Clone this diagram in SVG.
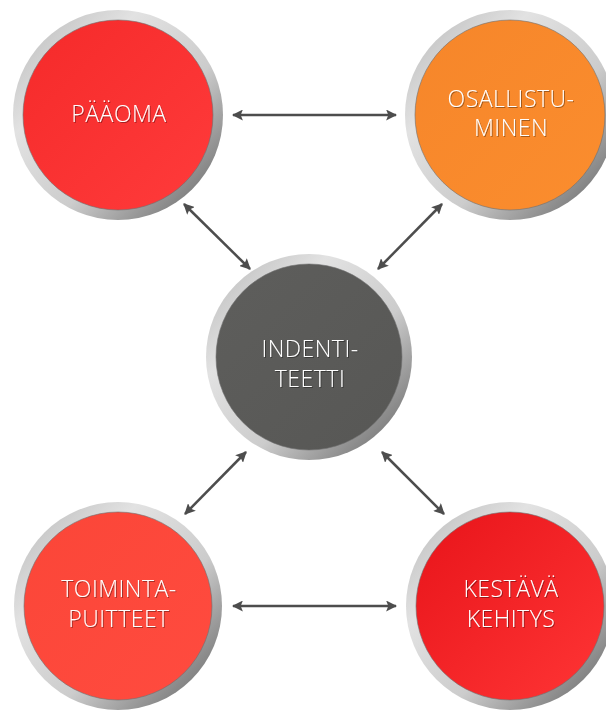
<svg xmlns="http://www.w3.org/2000/svg" width="606" height="711" viewBox="0 0 606 711">
<defs>
  <linearGradient id="ring" x1="0" y1="0" x2="1" y2="1">
    <stop offset="0" stop-color="#b5b5b5"/>
    <stop offset="0.3" stop-color="#e2e2e2"/>
    <stop offset="0.6" stop-color="#cccccc"/>
    <stop offset="0.85" stop-color="#858585"/>
    <stop offset="1" stop-color="#bdbdbd"/>
  </linearGradient>
  <linearGradient id="gRed" x1="0" y1="0" x2="1" y2="1">
    <stop offset="0" stop-color="#f52a2a"/>
    <stop offset="1" stop-color="#ff3b3b"/>
  </linearGradient>
  <linearGradient id="gOrange" x1="0" y1="0" x2="1" y2="1">
    <stop offset="0" stop-color="#f6862a"/>
    <stop offset="1" stop-color="#fb8d2e"/>
  </linearGradient>
  <linearGradient id="gGray" x1="0" y1="0" x2="1" y2="1">
    <stop offset="0" stop-color="#5e5e5c"/>
    <stop offset="1" stop-color="#575755"/>
  </linearGradient>
  <linearGradient id="gRed2" x1="0" y1="0" x2="1" y2="1">
    <stop offset="0" stop-color="#fb4638"/>
    <stop offset="1" stop-color="#ff4b3f"/>
  </linearGradient>
  <linearGradient id="gRed3" x1="0" y1="0" x2="1" y2="1">
    <stop offset="0" stop-color="#e8141a"/>
    <stop offset="1" stop-color="#ff3535"/>
  </linearGradient>
  <filter id="ts" x="-20%" y="-20%" width="140%" height="140%">
    <feDropShadow dx="1" dy="1" stdDeviation="0.6" flood-color="#000" flood-opacity="0.35"/>
  </filter>
  <marker id="ah" viewBox="0 0 10 10" refX="9" refY="5" markerWidth="4.4" markerHeight="4.4" orient="auto-start-reverse" markerUnits="strokeWidth">
    <path d="M0,0 L10,5 L0,10 L2,5 Z" fill="#4d4d4d"/>
  </marker>
</defs>
<style>
  .ring { fill: url(#ring); }
  .edge { fill: none; stroke: #6f6f6f; stroke-width: 1; stroke-opacity: 0.6; }
  .lbl { font-family: "Open Sans", "Liberation Sans", sans-serif; font-weight: 300; font-size: 23px; letter-spacing: 0.5px; fill: #ffffff; text-anchor: middle; filter: url(#ts); }
  .conn { stroke: #4d4d4d; stroke-width: 2.5; fill: none; marker-start: url(#ah); marker-end: url(#ah); }
</style>
<g id="connectors">
  <line class="conn" x1="233" y1="115" x2="396" y2="115"/>
  <line class="conn" x1="233" y1="606" x2="396" y2="606"/>
  <line class="conn" x1="184" y1="204" x2="250" y2="269"/>
  <line class="conn" x1="442" y1="204" x2="378" y2="269"/>
  <line class="conn" x1="246" y1="452" x2="185" y2="514"/>
  <line class="conn" x1="382" y1="452" x2="444" y2="514"/>
</g>
<g id="paaoma">
  <circle class="ring" cx="118" cy="115" r="105"/>
  <circle cx="118" cy="115" r="95" fill="url(#gRed)"/>
  <circle class="edge" cx="118" cy="115" r="95"/>
  <text class="lbl" x="119" y="122">PÄÄOMA</text>
</g>
<g id="osallistuminen">
  <circle class="ring" cx="510" cy="115" r="105"/>
  <circle cx="510" cy="115" r="95" fill="url(#gOrange)"/>
  <circle class="edge" cx="510" cy="115" r="95"/>
  <text class="lbl" x="511" y="107">OSALLISTU-</text>
  <text class="lbl" x="511" y="136">MINEN</text>
</g>
<g id="identiteetti">
  <circle class="ring" cx="309" cy="357" r="103"/>
  <circle cx="309" cy="357" r="93" fill="url(#gGray)"/>
  <circle class="edge" cx="309" cy="357" r="93"/>
  <text class="lbl" x="310" y="357">INDENTI-</text>
  <text class="lbl" x="310" y="387">TEETTI</text>
</g>
<g id="toimintapuitteet">
  <circle class="ring" cx="118" cy="606" r="104"/>
  <circle cx="118" cy="606" r="94" fill="url(#gRed2)"/>
  <circle class="edge" cx="118" cy="606" r="94"/>
  <text class="lbl" x="119" y="597">TOIMINTA-</text>
  <text class="lbl" x="119" y="627">PUITTEET</text>
</g>
<g id="kestava">
  <circle class="ring" cx="510" cy="606" r="104"/>
  <circle cx="510" cy="606" r="94" fill="url(#gRed3)"/>
  <circle class="edge" cx="510" cy="606" r="94"/>
  <text class="lbl" x="511" y="597">KESTÄVÄ</text>
  <text class="lbl" x="511" y="627">KEHITYS</text>
</g>
</svg>
